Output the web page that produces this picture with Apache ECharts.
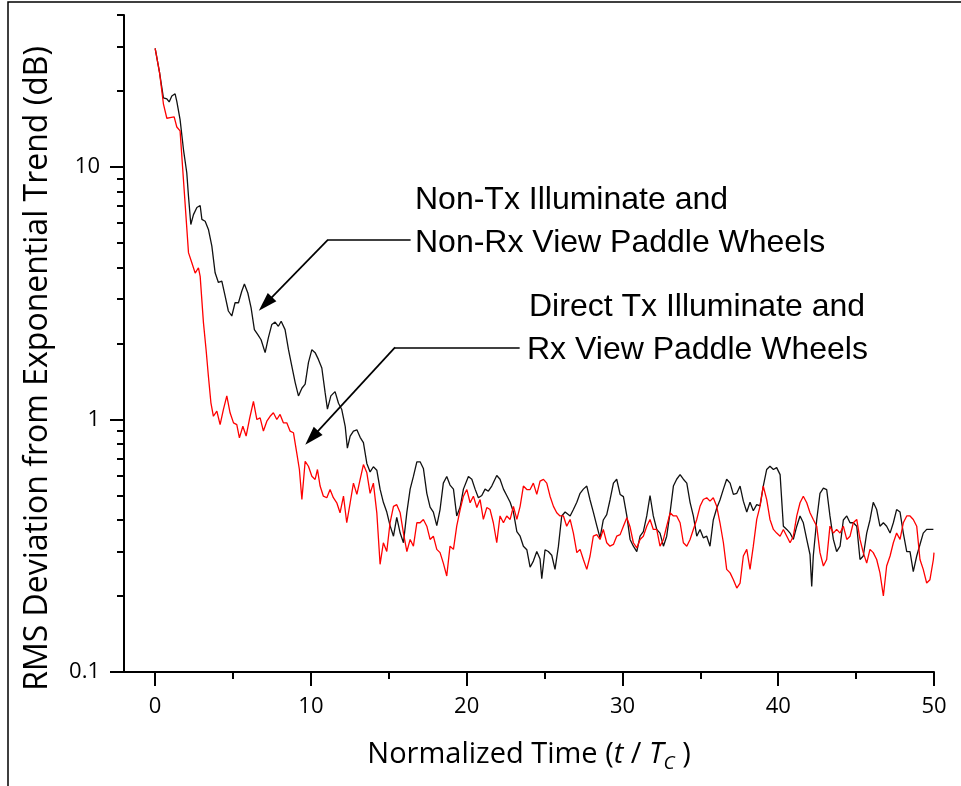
<!DOCTYPE html>
<html>
<head>
<meta charset="utf-8">
<script src="https://cdn.jsdelivr.net/npm/echarts@6/dist/echarts.min.js"></script>
<style>html,body{margin:0;padding:0;background:#fff}#c{width:961px;height:786px}</style>
</head>
<body>
<div id="c"></div>
<script>
// Non-Tx Illuminate and Non-Rx View Paddle Wheels (black)
const timeBlack = [0,0.28,0.53,0.75,0.90,1.07,1.28,1.39,1.60,1.82,2.03,2.14,2.29,2.46,2.68,2.89,3.00,3.21,3.42,3.64,3.85,4.06,4.28,4.49,4.70,4.92,5.13,5.35,5.56,5.73,5.95,6.16,6.37,6.59,6.80,7.06,7.27,7.49,7.70,7.91,8.09,8.34,8.56,8.77,8.99,9.20,9.42,9.63,9.84,10.06,10.27,10.48,10.70,10.91,11.06,11.28,11.55,11.77,11.98,12.20,12.34,12.52,12.73,12.95,13.16,13.37,13.59,13.80,14.01,14.23,14.44,14.65,14.87,15.08,15.30,15.51,15.73,15.94,16.16,16.37,16.58,16.80,17.01,17.22,17.44,17.65,17.86,18.08,18.29,18.50,18.72,18.93,19.15,19.36,19.58,19.79,20.11,20.33,20.54,20.75,20.97,21.18,21.39,21.61,21.93,22.14,22.36,22.57,22.79,23.00,23.22,23.43,23.64,23.86,24.07,24.28,24.50,24.71,24.82,25.03,25.24,25.46,25.67,25.89,26.10,26.32,26.64,26.85,27.07,27.28,27.49,27.71,27.92,28.13,28.35,28.56,28.77,28.99,29.20,29.42,29.63,29.85,30.06,30.28,30.49,30.70,30.92,31.13,31.34,31.56,31.77,31.98,32.20,32.41,32.63,32.84,33.06,33.27,33.48,33.70,33.91,34.13,34.34,34.55,34.77,34.98,35.19,35.41,35.62,35.83,36.05,36.26,36.48,36.69,36.91,37.12,37.34,37.55,37.76,37.98,38.19,38.40,38.62,38.83,39.04,39.26,39.47,39.69,39.90,40.12,40.33,40.55,40.76,40.97,41.19,41.40,41.61,41.83,42.04,42.15,42.25,42.47,42.68,42.90,43.11,43.32,43.54,43.75,43.97,44.18,44.40,44.61,44.82,45.04,45.25,45.46,45.68,45.89,46.10,46.32,46.53,46.75,46.96,47.18,47.39,47.60,47.82,48.03,48.25,48.46,48.67,48.89,49.10,49.31,49.53,49.74,49.96];
const rmsBlack = [29.5,23.7,18.8,18.6,18.1,19.1,19.5,18.2,15.4,11.7,9.49,7.66,5.92,6.48,6.91,7.04,6.20,6.10,5.66,4.86,3.81,3.49,3.53,3.09,2.69,2.57,2.90,2.90,3.22,3.44,3.17,2.77,2.27,2.17,2.07,1.84,2.11,2.38,2.43,2.34,2.45,2.27,1.89,1.63,1.40,1.24,1.33,1.38,1.68,1.89,1.84,1.73,1.60,1.28,1.10,1.24,1.29,1.16,1.095,0.94,0.77,0.86,0.90,0.91,0.85,0.81,0.67,0.62,0.65,0.63,0.53,0.47,0.43,0.38,0.345,0.41,0.355,0.325,0.43,0.53,0.595,0.68,0.68,0.64,0.51,0.45,0.43,0.38,0.44,0.56,0.595,0.55,0.53,0.415,0.45,0.53,0.595,0.58,0.53,0.49,0.50,0.53,0.52,0.545,0.60,0.58,0.53,0.50,0.47,0.43,0.36,0.345,0.315,0.305,0.26,0.275,0.30,0.28,0.234,0.305,0.30,0.29,0.255,0.315,0.415,0.43,0.415,0.44,0.47,0.51,0.53,0.545,0.48,0.43,0.38,0.34,0.40,0.42,0.48,0.56,0.58,0.505,0.495,0.415,0.335,0.315,0.30,0.345,0.36,0.415,0.50,0.415,0.367,0.355,0.315,0.345,0.43,0.545,0.58,0.605,0.58,0.56,0.47,0.415,0.345,0.367,0.34,0.345,0.315,0.40,0.445,0.48,0.53,0.58,0.56,0.505,0.51,0.545,0.475,0.43,0.47,0.435,0.46,0.455,0.545,0.634,0.653,0.634,0.645,0.605,0.378,0.367,0.355,0.335,0.378,0.415,0.39,0.335,0.292,0.218,0.288,0.40,0.51,0.535,0.528,0.415,0.335,0.30,0.315,0.40,0.415,0.39,0.39,0.378,0.279,0.288,0.355,0.40,0.47,0.44,0.378,0.39,0.378,0.355,0.39,0.44,0.43,0.355,0.30,0.30,0.25,0.288,0.32,0.355,0.367,0.367,0.367];

// Direct Tx Illuminate and Rx View Paddle Wheels (red)
const timeRed = [0,0.28,0.53,0.75,0.96,1.22,1.39,1.60,1.86,2.14,2.36,2.57,2.78,2.89,3.10,3.27,3.42,3.58,3.74,3.96,4.17,4.38,4.60,4.81,5.03,5.24,5.41,5.63,5.84,6.05,6.31,6.53,6.74,6.95,7.17,7.38,7.59,7.81,8.02,8.23,8.45,8.66,8.88,9.09,9.26,9.42,9.63,9.84,10.06,10.27,10.42,10.59,10.80,11.02,11.23,11.44,11.66,11.87,12.09,12.30,12.52,12.73,12.95,13.16,13.37,13.59,13.80,14.01,14.23,14.44,14.65,14.87,15.08,15.30,15.51,15.73,15.94,16.16,16.37,16.58,16.80,17.01,17.22,17.44,17.65,17.86,18.08,18.29,18.50,18.72,18.93,19.15,19.36,19.58,19.79,20.01,20.22,20.43,20.65,20.86,21.07,21.29,21.50,21.71,21.93,22.14,22.36,22.57,22.79,23.00,23.22,23.43,23.64,23.86,24.07,24.28,24.50,24.71,24.93,25.14,25.35,25.57,25.78,25.99,26.21,26.42,26.64,26.85,27.07,27.28,27.49,27.71,27.92,28.13,28.35,28.56,28.77,28.99,29.20,29.42,29.63,29.85,30.06,30.28,30.49,30.70,30.92,31.13,31.34,31.56,31.77,31.98,32.20,32.41,32.63,32.84,33.06,33.27,33.48,33.70,33.91,34.13,34.34,34.55,34.77,34.98,35.19,35.41,35.62,35.83,36.05,36.26,36.48,36.69,36.91,37.12,37.34,37.55,37.76,37.98,38.19,38.40,38.62,38.83,39.04,39.26,39.47,39.69,39.90,40.12,40.33,40.55,40.76,40.97,41.19,41.40,41.61,41.83,42.04,42.25,42.47,42.68,42.90,43.11,43.32,43.54,43.75,43.97,44.18,44.40,44.61,44.82,45.04,45.25,45.46,45.68,45.89,46.10,46.32,46.53,46.75,46.96,47.18,47.39,47.60,47.82,48.03,48.25,48.46,48.67,48.89,49.10,49.31,49.53,49.74,49.96,50.0];
const rmsRed = [29.5,23.7,17.8,15.6,15.7,15.8,14.4,13.9,8.15,4.58,4.17,3.80,3.99,3.69,2.42,1.89,1.48,1.165,1.03,1.08,0.955,1.095,1.24,1.063,0.97,0.955,0.846,0.94,0.86,1.0,1.18,1.0,1.015,0.90,0.985,1.03,1.063,1.0,1.047,0.97,0.97,0.90,0.886,0.738,0.634,0.482,0.683,0.653,0.596,0.579,0.634,0.545,0.497,0.49,0.528,0.49,0.468,0.427,0.497,0.39,0.468,0.56,0.505,0.579,0.663,0.615,0.51,0.56,0.427,0.267,0.325,0.30,0.39,0.453,0.46,0.427,0.355,0.30,0.335,0.315,0.39,0.39,0.402,0.378,0.335,0.345,0.306,0.297,0.27,0.24,0.315,0.306,0.378,0.44,0.497,0.528,0.468,0.497,0.448,0.482,0.402,0.448,0.44,0.39,0.325,0.415,0.39,0.415,0.402,0.453,0.402,0.453,0.545,0.528,0.528,0.56,0.505,0.57,0.579,0.56,0.497,0.453,0.427,0.415,0.415,0.378,0.402,0.355,0.297,0.306,0.279,0.255,0.288,0.345,0.35,0.335,0.367,0.325,0.315,0.32,0.345,0.35,0.378,0.408,0.375,0.325,0.31,0.335,0.345,0.378,0.402,0.367,0.367,0.315,0.335,0.378,0.427,0.415,0.415,0.39,0.325,0.315,0.335,0.367,0.402,0.453,0.482,0.49,0.475,0.49,0.453,0.39,0.325,0.255,0.247,0.232,0.215,0.225,0.288,0.306,0.255,0.315,0.402,0.453,0.545,0.482,0.402,0.367,0.355,0.345,0.367,0.345,0.325,0.345,0.415,0.468,0.497,0.468,0.427,0.402,0.378,0.297,0.263,0.279,0.378,0.355,0.367,0.355,0.378,0.335,0.345,0.39,0.402,0.335,0.297,0.27,0.306,0.297,0.279,0.247,0.20,0.263,0.288,0.325,0.355,0.335,0.39,0.415,0.415,0.402,0.378,0.279,0.255,0.225,0.232,0.279,0.297];

const xMajorTicks = [0, 10, 20, 30, 40, 50];
const xMinorTicks = [5, 15, 25, 35, 45];
const yMajorTicks = [0.1, 1, 10];
const yMinorTicks = [0.2,0.3,0.4,0.5,0.6,0.7,0.8,0.9,2,3,4,5,6,7,8,9,20,30,40];

const annotationTop = ['Non-Tx Illuminate and', 'Non-Rx View Paddle Wheels'];
const annotationBottom = ['Direct Tx Illuminate and', 'Rx View Paddle Wheels'];

const chart = echarts.init(document.getElementById('c'), null, {renderer: 'canvas'});
const AX = '"Open Sans", sans-serif';
const ANN = '32px "Liberation Sans", Arial, sans-serif';
const zip = (t, v) => t.map((x, i) => [x, v[i]]);

const option = {
  animation: false,
  backgroundColor: '#fff',
  grid: {left: 124, right: 27, top: 15, bottom: 114, containLabel: false, outerBoundsMode: 'none'},
  xAxis: [{
    type: 'value', min: -2, max: 50,
    axisLine: {show: true, onZero: false, lineStyle: {color: '#000', width: 2}},
    axisTick: {show: true, customValues: xMajorTicks, length: 14, lineStyle: {color: '#000', width: 2}},
    axisLabel: {customValues: xMajorTicks, margin: 24, fontSize: 22, color: '#000', fontFamily: AX},
    splitLine: {show: false},
    name: '{n|Normalized Time (}{i|t}{n| / }{i|T}{s|C}{n| )}',
    nameLocation: 'middle', nameGap: 64, nameMoveOverlap: false,
    nameTextStyle: {rich: {
      n: {fontSize: 29, fontFamily: AX, color: '#000'},
      i: {fontSize: 29, fontFamily: AX, fontStyle: 'italic', color: '#000'},
      s: {fontSize: 19, fontFamily: AX, fontStyle: 'italic', color: '#000', padding: [18, 0, 0, 0]}
    }}
  }, {
    type: 'value', min: -2, max: 50, position: 'bottom',
    axisLine: {show: false, onZero: false},
    axisTick: {show: true, customValues: xMinorTicks, length: 7, lineStyle: {color: '#000', width: 2}},
    axisLabel: {show: false}, splitLine: {show: false}
  }],
  yAxis: [{
    type: 'log', logBase: 10, min: 0.1, max: 40,
    axisLine: {show: true, onZero: false, lineStyle: {color: '#000', width: 2}},
    axisTick: {show: true, customValues: yMajorTicks, length: 14, lineStyle: {color: '#000', width: 2}},
    axisLabel: {customValues: yMajorTicks, margin: 24, fontSize: 22, color: '#000', fontFamily: AX,
      formatter: v => String(+Number(v).toPrecision(3))},
    splitLine: {show: false}, minorTick: {show: false},
    name: 'RMS Deviation from Exponential Trend (dB)',
    nameLocation: 'middle', nameGap: 70, nameRotate: 90, nameMoveOverlap: false,
    nameTextStyle: {fontSize: 32, fontFamily: AX, color: '#000', padding: [0, 50, 0, 0]}
  }, {
    type: 'log', logBase: 10, min: 0.1, max: 40, position: 'left', offset: 0,
    axisLine: {show: false, onZero: false},
    axisTick: {show: true, customValues: yMinorTicks, length: 7, lineStyle: {color: '#000', width: 2}},
    axisLabel: {show: false}, splitLine: {show: false}
  }],
  series: [{
    name: 'Non-Tx Illuminate and Non-Rx View Paddle Wheels',
    type: 'line', xAxisIndex: 0, yAxisIndex: 0,
    data: zip(timeBlack, rmsBlack), showSymbol: false, symbol: 'none',
    lineStyle: {color: '#111', width: 1.3}, z: 2,
    markLine: {
      silent: true, animation: false, label: {show: false},
      lineStyle: {type: 'solid', color: '#000', width: 1.7},
      data: [
        [{coord: [11.1, 5.16], symbol: 'none'}, {coord: [16.4, 5.16], symbol: 'none'}],
        [{coord: [11.1, 5.16], symbol: 'none'}, {coord: [7.08, 2.87], symbol: 'triangle', symbolSize: [12, 19]}],
        [{coord: [15.4, 1.93], symbol: 'none'}, {coord: [23.4, 1.93], symbol: 'none'}],
        [{coord: [15.4, 1.93], symbol: 'none'}, {coord: [10.05, 0.846], symbol: 'triangle', symbolSize: [12, 19]}]
      ]
    }
  }, {
    name: 'Direct Tx Illuminate and Rx View Paddle Wheels',
    type: 'line', xAxisIndex: 0, yAxisIndex: 0,
    data: zip(timeRed, rmsRed), showSymbol: false, symbol: 'none',
    lineStyle: {color: '#ff0000', width: 1.3}, z: 3
  }],
  graphic: [
    {type: 'rect', shape: {x: 8, y: 2, width: 1200, height: 1200}, style: {fill: 'none', stroke: '#000', lineWidth: 1.5}, silent: true},
    {type: 'text', x: 415, y: 200, style: {text: annotationTop[0], font: ANN, fill: '#000', verticalAlign: 'middle', align: 'left'}},
    {type: 'text', x: 415, y: 243, style: {text: annotationTop[1], font: ANN, fill: '#000', verticalAlign: 'middle', align: 'left'}},
    {type: 'text', x: 529, y: 307, style: {text: annotationBottom[0], font: ANN, fill: '#000', verticalAlign: 'middle', align: 'left'}},
    {type: 'text', x: 527, y: 350, style: {text: annotationBottom[1], font: ANN, fill: '#000', verticalAlign: 'middle', align: 'left'}}
  ]
};
chart.setOption(option);
</script>
</body>
</html>
